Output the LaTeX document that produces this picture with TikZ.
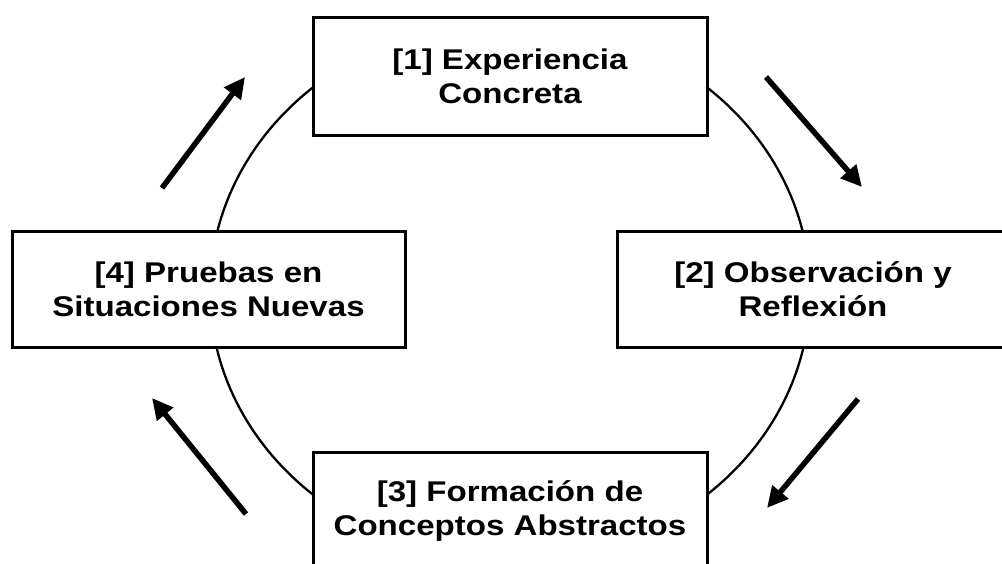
\documentclass[tikz,border=0pt]{standalone}
\usepackage{fontspec}
\setmainfont{Liberation Sans}[FakeStretch=1.16]
\usetikzlibrary{arrows.meta}
\tikzset{
  stagebox/.style={draw=black, line width=3pt, fill=white, inner sep=0pt,
    align=center, font=\bfseries\fontsize{28.5}{34}\selectfont},
  cyclearrow/.style={line width=5.5pt, -{Triangle[length=21pt,width=20pt]}},
  ring/.style={line width=2.3pt}
}
\begin{document}
\begin{tikzpicture}[x=1pt,y=-1pt]
\useasboundingbox (0,0) rectangle (1002,563);
\fill[white] (0,0) rectangle (1002,563);
\draw[ring] (510,291) ellipse [x radius=300, y radius=270];
\node[stagebox, minimum width=394pt, minimum height=118pt] (s1) at (510,76) {[1] Experiencia\\Concreta};
\node[stagebox, minimum width=392pt, minimum height=116pt] (s2) at (813,289) {[2] Observación y\\Reflexión};
\node[stagebox, minimum width=394pt, minimum height=118pt] (s3) at (510,511) {[3] Formación de\\Conceptos Abstractos};
\node[stagebox, minimum width=393pt, minimum height=116pt] (s4) at (208.5,289) {[4] Pruebas en\\Situaciones Nuevas};
\coordinate (a1s) at (162,188); \coordinate (a1e) at (245,77);
\coordinate (a2s) at (766,77);  \coordinate (a2e) at (862,187);
\coordinate (a3s) at (858,399); \coordinate (a3e) at (767,508);
\coordinate (a4s) at (246,514); \coordinate (a4e) at (152,398);
\draw[cyclearrow] (a1s) -- (a1e);
\draw[cyclearrow] (a2s) -- (a2e);
\draw[cyclearrow] (a3s) -- (a3e);
\draw[cyclearrow] (a4s) -- (a4e);
\end{tikzpicture}
\end{document}
